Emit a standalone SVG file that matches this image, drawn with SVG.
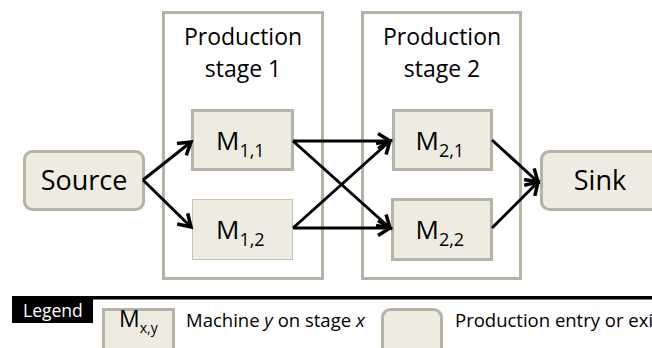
<svg xmlns="http://www.w3.org/2000/svg" width="652" height="348" viewBox="0 0 652 348">
<style>
.stage{fill:#fff;stroke:#b5b3a6;stroke-width:3}
.mach{fill:#eeece1;stroke:#b5b3a6;stroke-width:3}
.thin{fill:#eeece1;stroke:#c4c2b4;stroke-width:1}
.term{fill:#eeece1;stroke:#b5b3a6;stroke-width:3}
text{font-family:"Open Sans","Liberation Sans",sans-serif;fill:#000}
.lbl{font-size:23px;text-anchor:middle}
.big{font-size:27px;text-anchor:middle}
.m{font-size:26px}
.sub{font-size:18px}
.leg{font-size:18.5px}
.conn line{stroke:#000;stroke-width:3;marker-end:url(#ah)}
</style>
<defs>
<marker id="ah" markerUnits="userSpaceOnUse" viewBox="-16 -10 18 20" refX="0" refY="0" markerWidth="18" markerHeight="20" orient="auto" overflow="visible">
<path d="M-12,-7.5 L0,0 L-12,7.5" fill="none" stroke="#000" stroke-width="3.5" stroke-linejoin="miter"/>
</marker>
</defs>
<rect width="652" height="348" fill="#fff"/>
<g id="stage1">
<rect class="stage" x="163.5" y="12.5" width="159" height="266"/>
<text class="lbl" x="243" y="45">Production</text>
<text class="lbl" x="243" y="77">stage 1</text>
</g>
<g id="stage2">
<rect class="stage" x="362.5" y="12.5" width="158" height="266"/>
<text class="lbl" x="442" y="45">Production</text>
<text class="lbl" x="442" y="77">stage 2</text>
</g>
<g id="source">
<rect class="term" x="24.5" y="151.5" width="119" height="58" rx="8"/>
<text class="big" x="84" y="190">Source</text>
</g>
<g id="sink">
<rect class="term" x="541.5" y="151.5" width="120" height="58" rx="8"/>
<text class="big" x="600" y="190">Sink</text>
</g>
<g id="m11">
<rect class="mach" x="192.5" y="110.5" width="100" height="59"/>
<text x="216" y="150"><tspan class="m">M</tspan><tspan class="sub" dy="7">1,1</tspan></text>
</g>
<g id="m12">
<rect class="thin" x="192.5" y="199.5" width="100" height="60"/>
<text x="216" y="239"><tspan class="m">M</tspan><tspan class="sub" dy="7">1,2</tspan></text>
</g>
<g id="m21">
<rect class="mach" x="393.5" y="110.5" width="98" height="59"/>
<text x="415.5" y="150"><tspan class="m">M</tspan><tspan class="sub" dy="7">2,1</tspan></text>
</g>
<g id="m22">
<rect class="mach" x="392.5" y="199.5" width="99" height="60"/>
<text x="415.5" y="239"><tspan class="m">M</tspan><tspan class="sub" dy="7">2,2</tspan></text>
</g>
<g id="connectors" class="conn">
<line x1="143" y1="180" x2="191" y2="142"/>
<line x1="143" y1="180" x2="191" y2="227"/>
<line x1="293" y1="141" x2="390" y2="141"/>
<line x1="293" y1="141" x2="390" y2="228"/>
<line x1="293" y1="228" x2="390" y2="228"/>
<line x1="293" y1="228" x2="390" y2="141"/>
<line x1="492" y1="140" x2="538" y2="182"/>
<line x1="492" y1="228" x2="538" y2="182"/>
</g>
<g id="legend">
<rect x="12" y="296" width="640" height="3.5" fill="#000"/>
<rect x="12" y="299" width="81" height="24" fill="#000"/>
<text x="23" y="317" style="font-size:17.5px;fill:#fff">Legend</text>
<rect class="mach" x="103.5" y="309.5" width="70" height="50"/>
<text x="119" y="327"><tspan style="font-size:23px">M</tspan><tspan style="font-size:14px" dy="6">x,y</tspan></text>
<text class="leg" x="186" y="327">Machine <tspan font-style="italic">y</tspan> on stage <tspan font-style="italic">x</tspan></text>
<rect class="term" x="382.5" y="309.5" width="59" height="50" rx="8"/>
<text class="leg" x="455" y="327">Production entry or exit</text>
</g>
</svg>
